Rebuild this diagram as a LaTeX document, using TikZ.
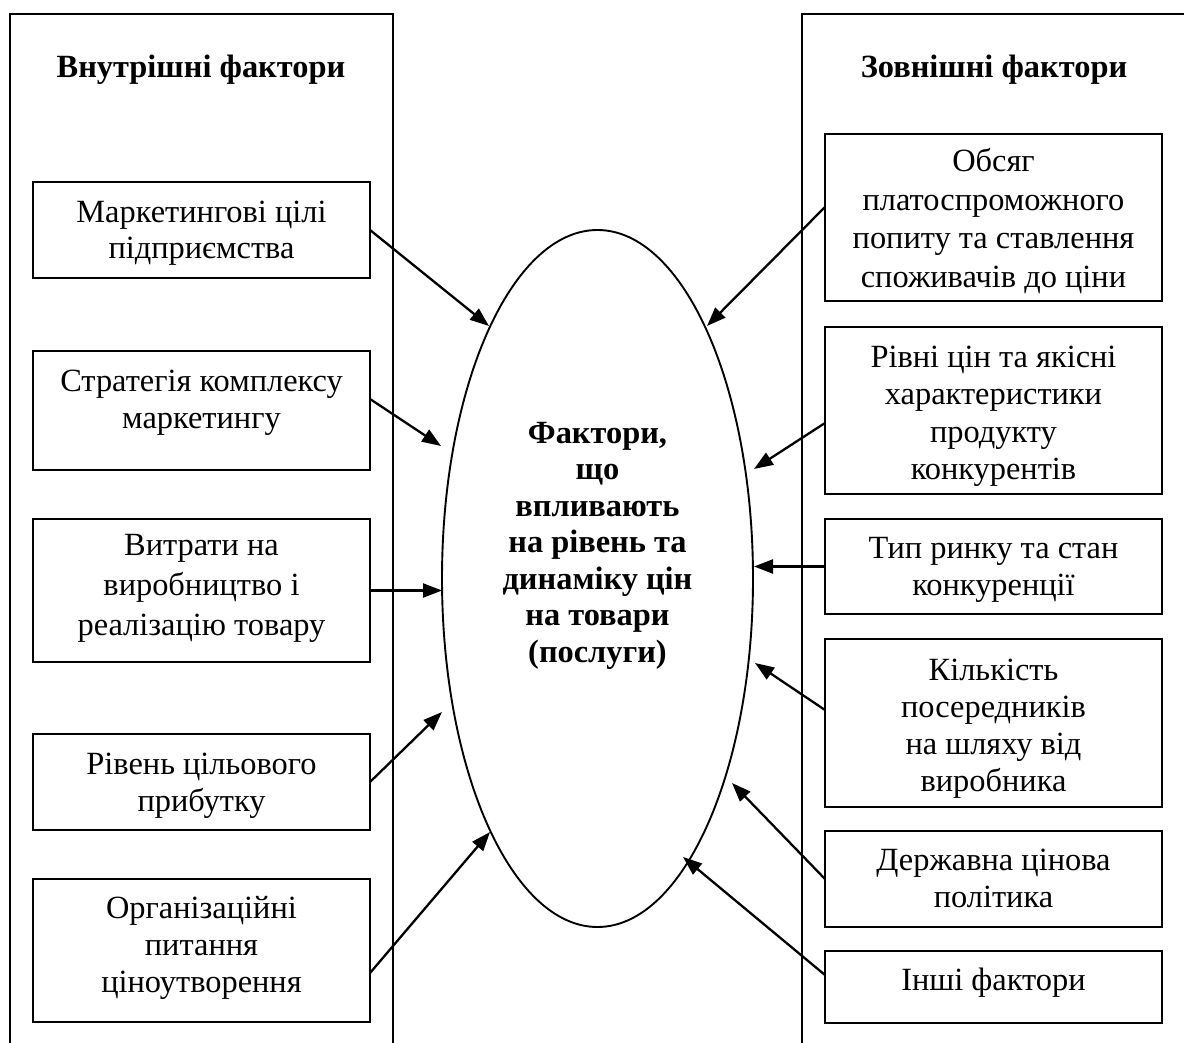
\documentclass[tikz,border=0pt]{standalone}
\usepackage{fontspec}
\setmainfont{Liberation Serif}
\usetikzlibrary{arrows.meta,shapes.geometric,calc}
% #1 box height, #2 first-baseline offset, #3 line spacing, #4 text
\newcommand\boxtxt[4]{\parbox[t][#1][t]{337pt}{\fontsize{32.4}{#3}\selectfont\centering\rule{0pt}{#2}#4}}
\tikzset{
  fbox/.style={draw, line width=2pt, inner sep=0pt, outer sep=0pt},
  panel/.style={line width=2pt},
  arr/.style={line width=2.3pt, -{Triangle[length=19pt,width=14pt]}},
  head/.style={font=\fontsize{32.4}{36}\selectfont\bfseries, inner sep=0pt, anchor=base},
}
\begin{document}
\begin{tikzpicture}[x=1pt,y=-1pt]
\useasboundingbox (0,0) rectangle (1184,1043);
% panels
\draw[panel] (10,1043) -- (10,14) -- (393,14) -- (393,1043);
\draw[panel] (802,1043) -- (802,14) -- (1184,14);
\node[head] (hl) at (201,78) {Внутрішні фактори};
\node[head] (hr) at (994,78) {Зовнішні фактори};
% ellipse
\node[draw, ellipse, line width=1.9pt, minimum width=311pt, minimum height=697pt, inner sep=0pt] (ell) at (597.5,578.5) {};
\node[inner sep=0pt, anchor=north, font=\fontsize{32.4}{36.5}\selectfont\bfseries] (etext) at (597.5,403)
 {\parbox[t]{300pt}{\centering\rule{0pt}{40pt}Фактори,\\ що\\ впливають\\ на рівень та\\ динаміку цін\\ на товари\\ (послуги)}};
% left boxes
\node[fbox] (l1) at (201.5,230)   {\boxtxt{96pt}{41pt}{35.5pt}{Маркетингові цілі\\ підприємства}};
\node[fbox] (l2) at (201.5,410.5) {\boxtxt{119pt}{40pt}{37pt}{Стратегія комплексу\\ маркетингу}};
\node[fbox] (l3) at (201.5,590.5) {\boxtxt{143pt}{36pt}{40pt}{Витрати на\\ виробництво і\\ реалізацію товару}};
\node[fbox] (l4) at (201.5,782)   {\boxtxt{96pt}{40pt}{37pt}{Рівень цільового\\ прибутку}};
\node[fbox] (l5) at (201.5,950.5) {\boxtxt{143pt}{39pt}{37pt}{Організаційні\\ питання\\ ціноутворення}};
% right boxes
\node[fbox] (r1) at (993.5,217.5) {\boxtxt{167pt}{38pt}{38.5pt}{Обсяг\\ платоспроможного\\ попиту та ставлення\\ споживачів до ціни}};
\node[fbox] (r2) at (993.5,410.5) {\boxtxt{167pt}{40pt}{37.5pt}{Рівні цін та якісні\\ характеристики\\ продукту\\ конкурентів}};
\node[fbox] (r3) at (993.5,566.5) {\boxtxt{95pt}{39pt}{37pt}{Тип ринку та стан\\ конкуренції}};
\node[fbox] (r4) at (993.5,723)   {\boxtxt{168pt}{41pt}{37pt}{Кількість\\ посередників\\ на шляху від\\ виробника}};
\node[fbox] (r5) at (993.5,879)   {\boxtxt{96pt}{39pt}{37pt}{Державна цінова\\ політика}};
\node[fbox] (r6) at (993.5,987)   {\boxtxt{72pt}{39pt}{37pt}{Інші фактори}};
% arrow tips at the ellipse
\coordinate (tl1) at (489,326);
\coordinate (tl2) at (441,446);
\coordinate (tl3) at (442,590.5);
\coordinate (tl4) at (442,712);
\coordinate (tl5) at (490,832);
\coordinate (tr1) at (707,326);
\coordinate (tr2) at (754,469);
\coordinate (tr3) at (754,566.5);
\coordinate (tr4) at (755,663);
\coordinate (tr5) at (732,783);
\coordinate (tr6) at (683,857);
% connectors
\draw[arr] (l1.east) -- (tl1);
\draw[arr] ([yshift=11.5pt]l2.east) -- (tl2);
\draw[arr] (l3.east) -- (tl3);
\draw[arr] (l4.east) -- (tl4);
\draw[arr] ([yshift=-22.5pt]l5.east) -- (tl5);
\draw[arr] ([yshift=10.5pt]r1.west) -- (tr1);
\draw[arr] ([yshift=-12.5pt]r2.west) -- (tr2);
\draw[arr] (r3.west) -- (tr3);
\draw[arr] ([yshift=13pt]r4.west) -- (tr4);
\draw[arr] (r5.west) -- (tr5);
\draw[arr] ([yshift=12pt]r6.west) -- (tr6);
\end{tikzpicture}
\end{document}
